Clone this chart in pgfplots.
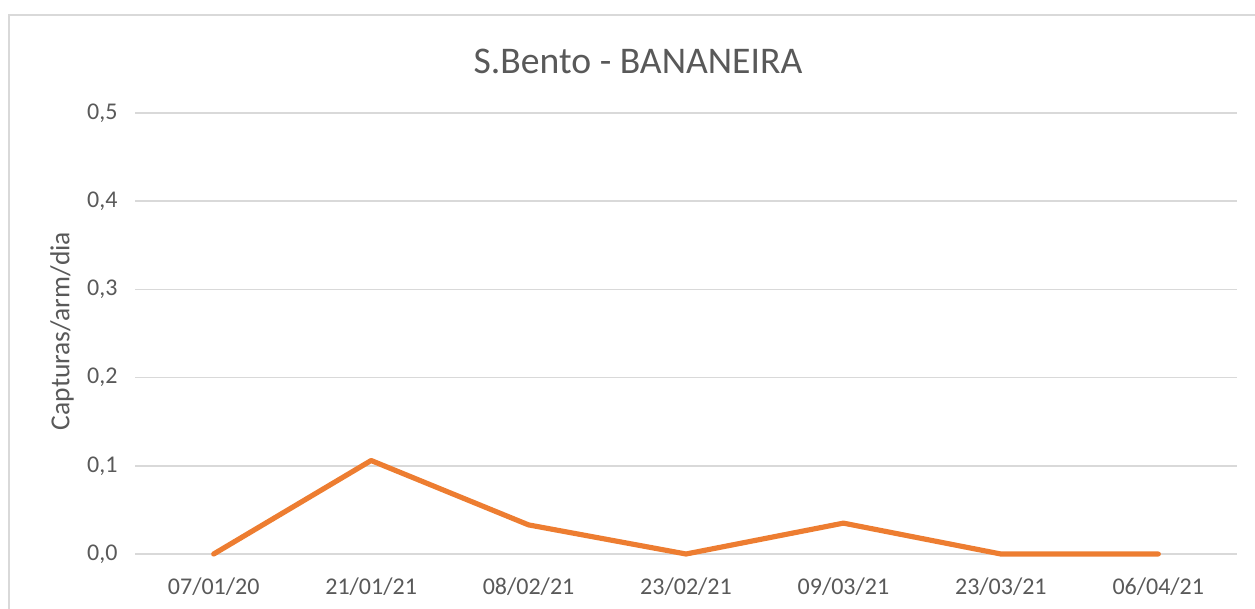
\documentclass[border=0pt]{standalone}
\usepackage{pgfplots}
\pgfplotsset{compat=1.18}
\usepackage{fontspec}
\setmainfont{Carlito}
\definecolor{txt}{HTML}{595959}
\definecolor{gridcol}{HTML}{D9D9D9}
\definecolor{orange}{HTML}{ED7D31}
\begin{document}
\begin{tikzpicture}
\useasboundingbox (0,0) rectangle (1255*0.6pt,608*0.6pt);
\draw[gridcol, line width=1.2pt] (9*0.6pt,-20*0.6pt) rectangle (1275*0.6pt,593*0.6pt);
\node[txt, font=\fontsize{22.6}{27}\selectfont] at (638*0.6pt,547*0.6pt) {S.Bento - BANANEIRA};
\node[txt, rotate=90, font=\fontsize{16.5}{19}\selectfont] at (62*0.6pt,277*0.6pt) {Capturas/arm/dia};
\begin{axis}[
  at={(135*0.6pt,54*0.6pt)}, anchor=south west,
  scale only axis, width=661.2pt, height=264.6pt,
  xmin=-0.5, xmax=6.5, ymin=0, ymax=0.5,
  axis line style={draw=none},
  major tick length=0pt,
  xtick={0,1,2,3,4,5,6},
  xticklabels={07/01/20,21/01/21,08/02/21,23/02/21,09/03/21,23/03/21,06/04/21},
  ytick={0,0.1,0.2,0.3,0.4,0.5},
  yticklabels={{0,0},{0,1},{0,2},{0,3},{0,4},{0,5}},
  ymajorgrids=true, xmajorgrids=false,
  major grid style={draw=gridcol, line width=0.9pt},
  tick label style={txt, font=\fontsize{14.4}{17}\selectfont},
  xticklabel style={yshift=-10.5pt},
  yticklabel style={xshift=-7pt},
  clip=false,
]
\addplot[orange, line width=3.1pt, line cap=round, line join=round] coordinates {
(0,0) (1,0.106) (2,0.033) (3,0) (4,0.035) (5,0) (6,0)
};
\end{axis}
\end{tikzpicture}
\end{document}
